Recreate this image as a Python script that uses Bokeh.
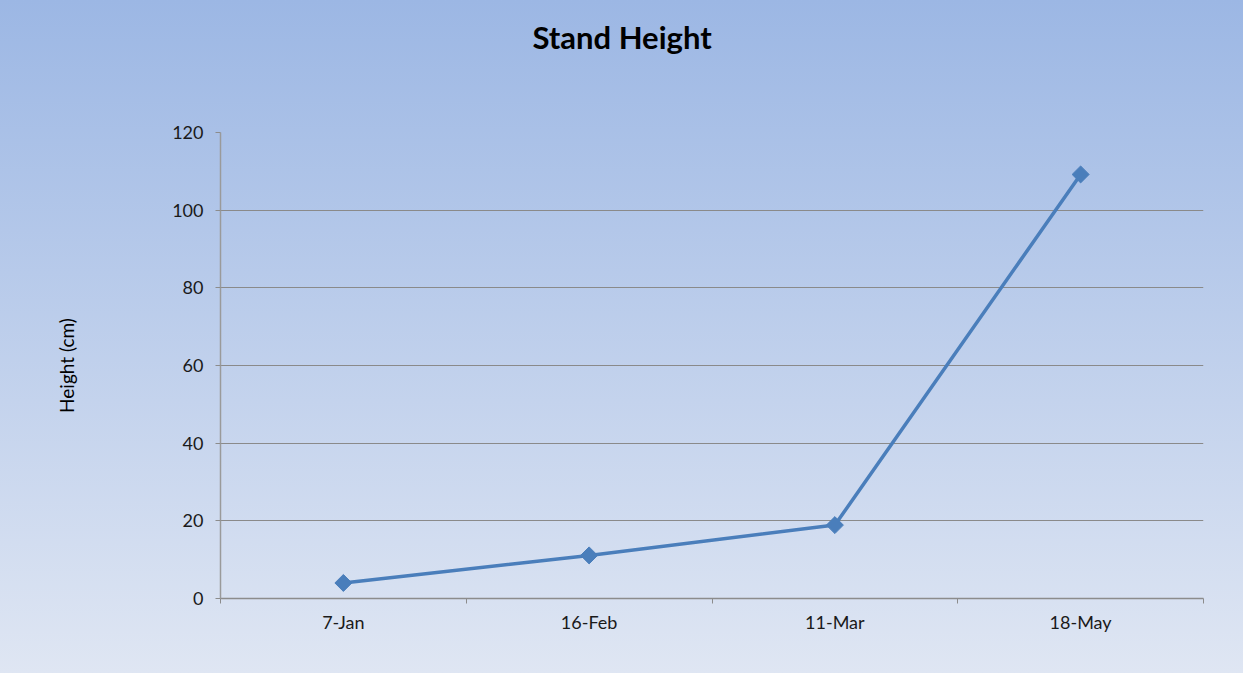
import numpy as np
from bokeh.plotting import figure
from bokeh.models import FixedTicker, Range1d, Title
from bokeh.embed import file_html
from bokeh.resources import INLINE

# Data
dates = ["7-Jan", "16-Feb", "11-Mar", "18-May"]
heights = [4.0, 11.1, 18.9, 109.2]
y_ticks = [0, 20, 40, 60, 80, 100, 120]
title_text = "Stand Height"

xs = [i + 0.5 for i in range(len(dates))]

FONT = "Lato"
W, H = 1243, 673
LEFT, RIGHT, TOP, BOTTOM = 220, 40, 132, 75

p = figure(width=W, height=H, output_backend="svg", toolbar_location=None,
           x_range=Range1d(0, len(dates)), y_range=Range1d(0, 120),
           min_border_left=LEFT, min_border_right=RIGHT, min_border_top=TOP, min_border_bottom=BOTTOM)

p.styles = {"background": "linear-gradient(to bottom, #9cb7e4 0%, #dfe6f3 100%)"}
p.border_fill_color = None
p.background_fill_color = None
p.outline_line_color = None

# spacer between frame and title, then the title itself
spacer = Title(text=" ", text_font_size="10px", standoff=64)
p.add_layout(spacer, "above")
title = Title(text=title_text, align="left", offset=312, vertical_align="bottom", standoff=0,
              text_font=FONT, text_font_size="31px", text_font_style="bold", text_color="#000000")
p.add_layout(title, "above")

# y axis
p.yaxis.ticker = FixedTicker(ticks=y_ticks)
p.yaxis.axis_label = "Height (cm)"
p.yaxis.axis_label_text_font = FONT
p.yaxis.axis_label_text_font_style = "normal"
p.yaxis.axis_label_text_font_size = "19px"
p.yaxis.axis_label_text_color = "#000000"
p.yaxis.axis_label_standoff = 91
p.yaxis.major_label_text_font = FONT
p.yaxis.major_label_text_font_size = "18px"
p.yaxis.major_label_text_color = "#1a1a1a"
p.yaxis.major_label_standoff = 12
p.yaxis.axis_line_color = "#9a9a9a"
p.yaxis.axis_line_width = 1.5
p.yaxis.major_tick_line_color = "#8c8c8c"
p.yaxis.major_tick_out = 5
p.yaxis.major_tick_in = 0
p.yaxis.minor_tick_line_color = None

# x axis: labels at category centres, ticks at category boundaries
p.xaxis.ticker = FixedTicker(ticks=xs, minor_ticks=list(range(len(dates) + 1)))
p.xaxis.major_label_overrides = {x: d for x, d in zip(xs, dates)}
p.xaxis.major_label_text_font = FONT
p.xaxis.major_label_text_font_size = "18px"
p.xaxis.major_label_text_color = "#1a1a1a"
p.xaxis.major_label_standoff = 7
p.xaxis.major_tick_line_color = None
p.xaxis.major_tick_out = 0
p.xaxis.major_tick_in = 0
p.xaxis.minor_tick_line_color = "#8c8c8c"
p.xaxis.minor_tick_out = 5
p.xaxis.minor_tick_in = 0
p.xaxis.axis_line_color = "#8c8c8c"
p.xaxis.axis_line_width = 1.5

p.xgrid.grid_line_color = None
p.ygrid.grid_line_color = "#8a8a8a"
p.ygrid.grid_line_width = 1

p.line(xs, heights, line_color="#4a7ebb", line_width=3.5)
p.scatter(xs, heights, marker="square", angle=np.pi / 4, size=12,
          fill_color="#4a7ebb", line_color="#4a7ebb")

open("out.html", "w").write(file_html(p, INLINE))
